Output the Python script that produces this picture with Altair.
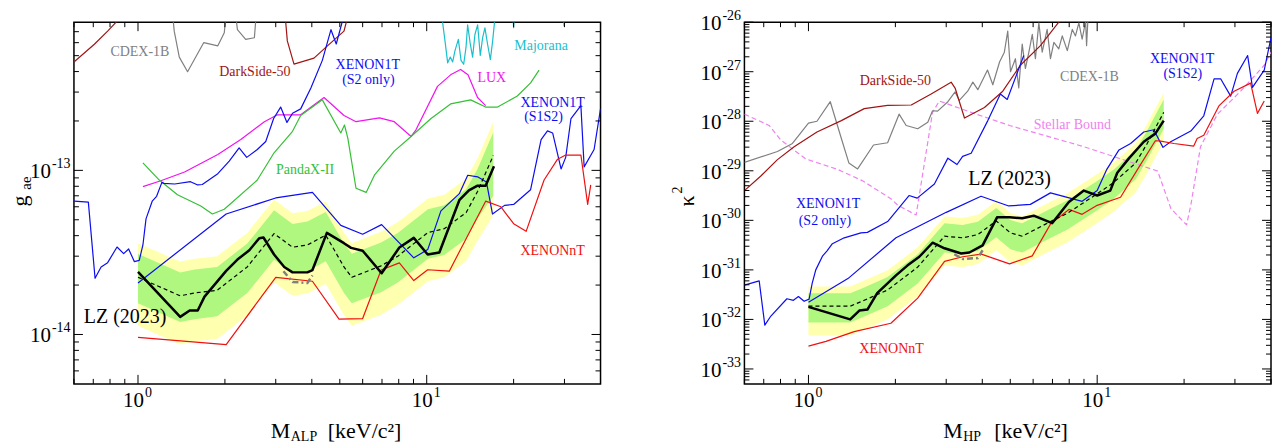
import altair as alt
import pandas as pd

FONT = "Liberation Serif"
W, H = 527, 362

BLUE = "#0d0df0"
RED = "#f01010"
GREEN = "#35c035"
MAGENTA = "#f014f0"
DARKRED = "#a01414"
GRAY = "#808080"
CYAN = "#18c0cc"
VIOLET = "#ee82ee"
YELLOW_BAND = "#ffffb0"
GREEN_BAND = "#b0f780"

# ---------------- tick arrays ----------------
X_MAJOR = [1, 10]
X_EXP = ["0", "1"]
X_MINOR = [0.6, 0.7, 0.8, 0.9, 2, 3, 4, 5, 6, 7, 8, 9, 20, 30, 40]

YL_MAJOR = [1e-14, 1e-13]
YL_EXP = ["-14", "-13"]
YL_MINOR = [6e-15, 7e-15, 8e-15, 9e-15,
            2e-14, 3e-14, 4e-14, 5e-14, 6e-14, 7e-14, 8e-14, 9e-14,
            2e-13, 3e-13, 4e-13, 5e-13, 6e-13, 7e-13]

YR_MAJOR = [1e-33, 1e-32, 1e-31, 1e-30, 1e-29, 1e-28, 1e-27, 1e-26]
YR_EXP = ["-33", "-32", "-31", "-30", "-29", "-28", "-27", "-26"]
YR_MINOR = [6e-34, 7e-34, 8e-34, 9e-34,
            2e-33, 3e-33, 4e-33, 5e-33, 6e-33, 7e-33, 8e-33, 9e-33,
            2e-32, 3e-32, 4e-32, 5e-32, 6e-32, 7e-32, 8e-32, 9e-32,
            2e-31, 3e-31, 4e-31, 5e-31, 6e-31, 7e-31, 8e-31, 9e-31,
            2e-30, 3e-30, 4e-30, 5e-30, 6e-30, 7e-30, 8e-30, 9e-30,
            2e-29, 3e-29, 4e-29, 5e-29, 6e-29, 7e-29, 8e-29, 9e-29,
            2e-28, 3e-28, 4e-28, 5e-28, 6e-28, 7e-28, 8e-28, 9e-28,
            2e-27, 3e-27, 4e-27, 5e-27, 6e-27, 7e-27, 8e-27, 9e-27]

# ---------------- LEFT PANEL (ALP, g_ae) ----------------
L_BAND_M = [1.00, 1.40, 1.57, 1.88, 2.39, 2.96, 3.43, 3.86, 4.47, 5.17, 5.50, 6.95, 7.94, 10.1, 11.5, 13.7, 15.0, 17.0]
L_MEDIAN = [2.23e-14, 1.72e-14, 1.79e-14, 1.86e-14, 2.58e-14, 4.12e-14, 3.40e-14, 3.51e-14, 4.03e-14, 2.58e-14,
            2.23e-14, 2.62e-14, 3.0e-14, 4.18e-14, 4.41e-14, 5.53e-14, 7.44e-14, 1.23e-13]
L_Y_TOP = [3.60e-14, 2.78e-14, 2.89e-14, 3.00e-14, 4.16e-14, 6.64e-14, 5.48e-14, 5.66e-14, 6.49e-14, 4.16e-14,
           3.60e-14, 4.22e-14, 4.83e-14, 6.73e-14, 7.11e-14, 8.91e-14, 1.18e-13, 1.98e-13]
L_G_TOP = [3.10e-14, 2.39e-14, 2.49e-14, 2.58e-14, 3.58e-14, 5.71e-14, 4.72e-14, 4.88e-14, 5.58e-14, 3.58e-14,
           3.10e-14, 3.63e-14, 4.16e-14, 5.79e-14, 6.12e-14, 7.67e-14, 1.02e-13, 1.70e-13]
L_G_BOT = [1.55e-14, 1.19e-14, 1.24e-14, 1.29e-14, 1.79e-14, 2.85e-14, 2.36e-14, 2.43e-14, 2.79e-14, 1.79e-14,
           1.55e-14, 1.81e-14, 2.07e-14, 2.89e-14, 3.05e-14, 3.83e-14, 5.08e-14, 7.0e-14]
L_Y_BOT = [1.13e-14, 8.7e-15, 9.1e-15, 9.4e-15, 1.31e-14, 2.08e-14, 1.72e-14, 1.78e-14, 2.04e-14, 1.31e-14,
           1.13e-14, 1.32e-14, 1.52e-14, 2.11e-14, 2.23e-14, 2.80e-14, 3.72e-14, 5.3e-14]

L_LZ_M = [1.00, 1.40, 1.51, 1.61, 1.70, 2.02, 2.21, 2.43, 2.63, 2.72, 2.96, 3.21, 3.43, 3.86, 4.02, 4.51, 5.17,
          5.47, 6.0, 6.98, 8.04, 9.02, 10.08, 11.06, 12.97, 14.0, 15.0, 16.0, 17.1]
L_LZ_G = [2.41e-14, 1.28e-14, 1.40e-14, 1.40e-14, 1.70e-14, 2.44e-14, 2.86e-14, 3.26e-14, 3.86e-14, 3.9e-14,
          3.07e-14, 2.58e-14, 2.39e-14, 2.39e-14, 2.47e-14, 4.16e-14, 3.6e-14, 3.37e-14, 3.24e-14, 2.36e-14,
          3.39e-14, 3.88e-14, 3.07e-14, 3.16e-14, 6.58e-14, 7.55e-14, 8.07e-14, 8.07e-14, 1.06e-13]

L_GRAYDASH_M = [3.19, 3.43, 3.86, 4.02]
L_GRAYDASH_G = [2.43e-14, 2.09e-14, 2.06e-14, 2.29e-14]

L_XNT_M = [1.0, 2.02, 3.0, 4.02, 4.97, 6.0, 6.95, 8.04, 9.02, 10.08, 11.97, 16.0, 18.07, 20.0, 22.1, 25.5,
           28.4, 30.3, 34.2, 36.1, 37.0]
L_XNT_G = [9.6e-15, 8.67e-15, 2.23e-14, 2.11e-14, 1.24e-14, 1.25e-14, 2.47e-14, 2.73e-14, 2.13e-14, 2.48e-14,
           2.43e-14, 6.49e-14, 6.0e-14, 4.73e-14, 4.25e-14, 8.73e-14, 1.17e-13, 1.24e-13, 1.24e-13, 6.21e-14, 8.15e-14]

L_X1T_S1S2_M = [1.0, 2.02, 3.0, 4.02, 5.04, 6.0, 6.98, 9.02, 10.08, 11.2, 12.97, 13.87, 15.0, 16.1, 16.9, 18.6,
                20.0, 22.9, 24.9, 26.2, 27.3, 29.2, 30.3, 31.6, 34.2, 35.1, 38.0, 40.0]
L_X1T_S1S2_G = [2.06e-14, 5.42e-14, 6.79e-14, 7.34e-14, 4.62e-14, 4.08e-14, 4.67e-14, 2.93e-14, 3.29e-14, 5.66e-14,
                7.21e-14, 9.34e-14, 9.13e-14, 8.5e-14, 5.42e-14, 6.12e-14, 6.2e-14, 7.62e-14, 1.54e-13, 1.74e-13,
                1.69e-13, 1.02e-13, 1.2e-13, 2.07e-13, 2.48e-13, 1.05e-13, 1.34e-13, 2.37e-13]

L_X1T_S2_M = [0.6, 0.673, 0.71, 0.745, 0.785, 0.846, 0.892, 0.928, 0.971, 1.01, 1.04, 1.066, 1.12, 1.16, 1.21,
              1.23, 1.34, 1.52, 1.61, 1.67, 1.89, 2.07, 2.24, 2.38, 2.59, 2.77, 2.95, 3.12, 3.28, 3.43, 3.66,
              3.97, 4.35, 4.66, 4.86, 5.17]
L_X1T_S2_G = [6.49e-14, 6.4e-14, 2.2e-14, 2.58e-14, 2.74e-14, 3.41e-14, 3.11e-14, 3.32e-14, 2.78e-14, 2.83e-14,
              3.51e-14, 5.06e-14, 6.49e-14, 6.95e-14, 8.45e-14, 8.33e-14, 8.26e-14, 8.53e-14, 8.15e-14, 8.2e-14,
              9.55e-14, 1.14e-13, 1.37e-13, 1.20e-13, 1.34e-13, 1.50e-13, 2.07e-13, 2.43e-13, 1.96e-13, 2.23e-13,
              2.37e-13, 3.18e-13, 4.68e-13, 7.2e-13, 5.89e-13, 8.8e-13]

L_LUX_M = [1.04, 1.20, 1.45, 1.89, 2.27, 2.74, 3.04, 3.66, 4.41, 5.17, 5.69, 6.86, 7.72, 8.83, 9.17, 10.9,
           12.1, 13.1, 13.9, 15.0, 16.0]
L_LUX_G = [7.96e-14, 8.65e-14, 9.77e-14, 1.25e-13, 1.54e-13, 1.98e-13, 2.18e-13, 2.18e-13, 2.78e-13, 2.16e-13,
           1.98e-13, 2.09e-13, 1.98e-13, 1.61e-13, 1.76e-13, 3.25e-13, 3.82e-13, 4.12e-13, 3.82e-13, 2.78e-13, 2.48e-13]

L_PANDA_M = [1.04, 1.185, 1.37, 1.65, 1.81, 1.99, 2.59, 2.96, 3.43, 3.66, 4.35, 5.04, 5.19, 5.33, 5.69, 6.17,
             6.59, 7.72, 8.83, 10.35, 12.1, 14.2, 16.0, 17.6, 20.6, 22.9, 24.5]
L_PANDA_G = [1.11e-13, 8.73e-14, 7.11e-14, 6.07e-14, 5.42e-14, 5.79e-14, 8.73e-14, 1.28e-13, 1.73e-13, 2.16e-13,
             2.69e-13, 1.69e-13, 1.89e-13, 1.57e-13, 7.78e-14, 7.34e-14, 9.34e-14, 1.31e-13, 1.61e-13, 2.07e-13,
             2.54e-13, 2.69e-13, 2.43e-13, 2.43e-13, 2.84e-13, 3.41e-13, 4.08e-13]

L_DS50_M = [0.6, 0.706, 0.785, 0.84, 1.2, 2.5, 3.2, 3.25, 3.29, 3.47, 4.07, 4.53, 5.17, 5.4]
L_DS50_G = [4.57e-13, 5.87e-13, 7.05e-13, 8.0e-13, 3e-12, 3e-12, 1.0e-12, 7.9e-13, 6.15e-13, 4.44e-13,
            4.83e-13, 5.74e-13, 7.05e-13, 9.5e-13]

L_CDEX_M = [1.31, 1.335, 1.39, 1.485, 1.69, 1.89, 1.99, 2.03, 2.16, 2.21, 2.36, 2.53, 2.58]
L_CDEX_G = [1.0e-12, 7.05e-13, 4.9e-13, 3.99e-13, 6.01e-13, 5.74e-13, 6.89e-13, 1.0e-12, 1.0e-12, 7.21e-13,
            6.29e-13, 6.43e-13, 1.0e-12]

L_MAJ_M = [11.2, 11.36, 11.57, 11.82, 12.07, 12.30, 12.53, 12.87, 13.15, 13.43, 13.68, 13.86, 14.16, 14.42,
           14.69, 15.01, 15.33, 15.62, 15.91, 16.25, 16.61, 16.92, 17.14, 17.4, 19.7, 20.0, 20.3, 29.6, 29.9, 30.2]
L_MAJ_G = [1.2e-12, 7.9e-13, 6.15e-13, 4.52e-13, 4.9e-13, 4.58e-13, 5.37e-13, 6.29e-13, 4.68e-13, 4.43e-13,
           5.61e-13, 7.71e-13, 5.87e-13, 4.9e-13, 6.73e-13, 7.71e-13, 5.01e-13, 6.44e-13, 7.38e-13, 5.87e-13,
           4.72e-13, 6.15e-13, 7.71e-13, 1.2e-12, 1.2e-12, 7.4e-13, 1.2e-12, 1.2e-12, 7.6e-13, 1.2e-12]

L_LABELS = [("CDEX-1B", 1.015, 5.29e-13, GRAY, 14),
            ("DarkSide-50", 2.54, 3.99e-13, DARKRED, 14),
            ("XENON1T", 6.25, 4.38e-13, BLUE, 14),
            ("(S2 only)", 6.28, 3.56e-13, BLUE, 14),
            ("LUX", 16.8, 3.66e-13, MAGENTA, 14),
            ("Majorana", 24.9, 5.74e-13, CYAN, 14),
            ("PandaX-II", 3.79, 1.0e-13, GREEN, 14),
            ("XENON1T", 27.3, 2.59e-13, BLUE, 14),
            ("(S1S2)", 25.4, 2.10e-13, BLUE, 14),
            ("XENONnT", 27.3, 3.21e-14, RED, 14),
            ("LZ (2023)", 0.902, 1.28e-14, "black", 20)]

# ---------------- RIGHT PANEL (HP, kappa^2) ----------------
R_BAND_M = [1.0, 1.395, 1.56, 1.88, 2.39, 2.96, 3.42, 3.86, 4.47, 5.01, 5.50, 6.89, 7.87, 10.0, 11.4, 13.6, 14.9, 17.0]
R_MEDIAN = [1.85e-32, 1.85e-32, 2.43e-32, 3.93e-32, 1.14e-31, 4.78e-31, 4.44e-31, 5.15e-31, 9.73e-31, 5.57e-31,
            4.78e-31, 9.42e-31, 1.38e-30, 3.43e-30, 5.79e-30, 1.44e-29, 3.56e-29, 1.51e-28]
R_Y_TOP = [4.63e-32, 4.63e-32, 6.10e-32, 9.86e-32, 2.85e-31, 1.20e-30, 1.11e-30, 1.29e-30, 2.44e-30, 1.40e-30,
           1.20e-30, 2.37e-30, 3.47e-30, 8.61e-30, 1.46e-29, 3.61e-29, 8.95e-29, 3.78e-28]
R_G_TOP = [3.36e-32, 3.36e-32, 4.42e-32, 7.14e-32, 2.07e-31, 8.69e-31, 8.07e-31, 9.38e-31, 1.77e-30, 1.01e-30,
           8.69e-31, 1.71e-30, 2.51e-30, 6.24e-30, 1.05e-29, 2.62e-29, 6.49e-29, 2.74e-28]
R_G_BOT = [8.63e-33, 8.63e-33, 1.14e-32, 1.84e-32, 5.31e-32, 2.23e-31, 2.07e-31, 2.41e-31, 4.55e-31, 2.61e-31,
           2.23e-31, 4.41e-31, 6.46e-31, 1.60e-30, 2.71e-30, 6.73e-30, 1.67e-29, 7.05e-29]
R_Y_BOT = [4.74e-33, 4.74e-33, 6.24e-33, 1.01e-32, 2.92e-32, 1.23e-31, 1.14e-31, 1.32e-31, 2.50e-31, 1.43e-31,
           1.23e-31, 2.42e-31, 3.55e-31, 8.81e-31, 1.49e-30, 3.70e-30, 9.16e-30, 3.87e-29]

R_LZ_M = [1.0, 1.395, 1.50, 1.60, 1.73, 2.01, 2.20, 2.42, 2.69, 2.96, 3.38, 3.61, 4.01, 4.50, 4.97, 5.50, 6.03,
          6.98, 7.98, 8.99, 10.0, 11.1, 11.74, 12.9, 14.5, 15.9, 17.0]
R_LZ_K = [1.79e-32, 1.0e-32, 1.51e-32, 1.58e-32, 3.38e-32, 7.76e-32, 1.22e-31, 1.84e-31, 3.53e-31, 2.73e-31,
          2.14e-31, 2.24e-31, 3.13e-31, 1.15e-30, 1.15e-30, 1.10e-30, 1.24e-30, 8.77e-31, 2.34e-30, 3.98e-30,
          3.17e-30, 3.98e-30, 9.1e-30, 1.80e-29, 3.86e-29, 5.62e-29, 1.03e-28]

R_GRAYDASH_M = [3.20, 3.42, 3.86, 4.01]
R_GRAYDASH_K = [2.07e-31, 1.66e-31, 1.73e-31, 2.49e-31]

R_XNT_M = [1.0, 1.15, 1.44, 1.93, 2.39, 2.96, 3.42, 3.97, 4.97, 5.96, 6.89, 7.98, 8.87, 10.0, 12.05, 13.8,
           15.9, 16.4, 18.45, 21.6, 22.2, 23.4, 26.4, 29.8, 34.0, 35.9, 37.9]
R_XNT_K = [2.9e-33, 3.6e-33, 5.66e-33, 8.38e-33, 2.69e-32, 1.49e-31, 1.84e-31, 2.08e-31, 1.32e-31, 1.92e-31,
           8.38e-31, 1.66e-30, 1.32e-30, 2.01e-30, 2.93e-30, 1.07e-29, 4.03e-29, 4.03e-29, 3.56e-29, 3.16e-29,
           4.48e-29, 5.22e-29, 2.04e-28, 4.04e-28, 5.88e-28, 1.44e-28, 2.56e-28]

R_X1T_S1S2_M = [1.0, 1.37, 2.01, 3.0, 3.96, 4.94, 5.87, 6.89, 8.87, 10.0, 10.8, 11.9, 13.06, 14.5, 15.7, 16.9,
                17.97, 21.1, 23.4, 25.4, 26.8, 29.0, 30.6, 33.2, 34.5, 37.9, 40.0]
R_X1T_S1S2_K = [2.21e-32, 6.67e-32, 4.44e-31, 1.45e-30, 3.07e-30, 1.95e-30, 2.10e-30, 3.58e-30, 2.42e-30, 3.98e-30,
                1.07e-29, 2.64e-29, 3.56e-29, 6.07e-29, 6.73e-29, 2.97e-29, 3.85e-29, 6.35e-29, 1.29e-28, 7.14e-28,
                7.14e-28, 3.21e-28, 9.25e-28, 2.12e-27, 4.83e-28, 1.08e-27, 4.9e-27]

R_X1T_S2_M = [0.6, 0.675, 0.706, 0.741, 0.842, 0.887, 0.923, 0.966, 1.005, 1.03, 1.06, 1.12, 1.16, 1.21, 1.33,
              1.52, 1.60, 1.88, 2.23, 2.38, 2.73, 3.04, 3.27, 3.42, 3.66, 4.18, 4.62, 4.88, 5.57]
R_X1T_S2_K = [4.93e-32, 6.01e-32, 7.66e-33, 1.17e-32, 2.61e-32, 2.43e-32, 2.90e-32, 2.32e-32, 2.57e-32, 5.32e-32,
              1.0e-31, 1.92e-31, 2.42e-31, 3.38e-31, 4.44e-31, 5.57e-31, 5.71e-31, 9.44e-31, 3.17e-30, 2.81e-30,
              5.4e-30, 1.80e-29, 1.34e-29, 1.95e-29, 2.26e-29, 1.03e-28, 3.56e-28, 2.75e-28, 2.13e-27]

R_DS50_M = [0.6, 0.684, 0.781, 0.892, 1.07, 1.30, 1.56, 1.88, 2.27, 2.66, 3.12, 3.22, 3.47, 4.07, 4.71, 5.42,
            6.36, 7.36, 8.0]
R_DS50_K = [3.97e-30, 7.85e-30, 1.68e-29, 3.07e-29, 6.07e-29, 1.03e-28, 1.80e-28, 2.10e-28, 2.13e-28, 3.56e-28,
            6.15e-28, 4.68e-28, 1.16e-28, 1.89e-28, 4.04e-28, 1.35e-27, 3.35e-27, 1.0e-26, 2e-26]

R_CDEX_M = [0.6, 0.781, 0.88, 1.0, 1.07, 1.19, 1.30, 1.38, 1.48, 1.68, 1.88, 2.06, 2.18, 2.39, 2.59, 2.69, 2.80,
            3.04, 3.22, 3.33, 3.56, 3.71, 3.86, 4.17, 4.35, 4.59, 4.77, 4.90, 5.01, 5.21, 5.35, 5.50, 5.64, 5.80,
            5.96, 6.11, 6.28, 6.45, 6.71, 6.89, 7.08, 7.36, 7.57, 7.88, 8.20, 8.41, 8.64, 8.87, 9.12, 9.19, 9.28]
R_CDEX_K = [1.48e-29, 2.45e-29, 3.56e-29, 9.14e-29, 1.0e-28, 2.48e-28, 4.48e-29, 1.44e-29, 1.09e-29, 3.32e-29,
            3.68e-29, 1.39e-28, 8.22e-29, 7.05e-29, 9.55e-29, 1.63e-28, 1.6e-28, 2.48e-28, 3.91e-28, 2.63e-28,
            4.04e-28, 6.15e-28, 4.34e-28, 1.08e-27, 5.45e-28, 1.57e-27, 2.48e-27, 6.62e-27, 1.0e-27, 1.83e-27,
            4.69e-28, 3.61e-27, 1.16e-27, 2.48e-27, 5.69e-27, 1.83e-27, 9.68e-27, 2.48e-27, 7.14e-27, 1.83e-27,
            3.91e-27, 2.88e-27, 5.27e-27, 2.67e-27, 7.14e-27, 5.27e-27, 9.68e-27, 4.54e-27, 1.04e-26, 3.35e-27,
            1.04e-26]

R_STELLAR_M = [0.6, 0.731, 0.802, 0.98, 1.26, 1.54, 1.93, 2.04, 2.36, 2.69, 2.84, 3.66, 4.97, 8.99, 16.2, 18.0,
               20.4, 21.1, 22.8, 26.1, 31.4, 37.9, 40.0]
R_STELLAR_K = [1.39e-28, 8.22e-29, 4.16e-29, 1.73e-29, 1.07e-29, 6.27e-30, 2.73e-30, 2.01e-30, 1.28e-30, 1.51e-28,
               2.56e-28, 1.51e-28, 8.22e-29, 3.07e-29, 9.86e-30, 1.73e-30, 8.1e-31, 2.01e-30, 3.07e-29, 1.39e-28,
               4.04e-28, 1.35e-27, 2.48e-27]

R_LABELS = [("DarkSide-50", 2.0, 6.35e-28, DARKRED, 14),
            ("CDEX-1B", 9.40, 7.96e-28, GRAY, 14),
            ("XENON1T", 19.7, 1.77e-27, BLUE, 14),
            ("(S1S2)", 19.8, 8.85e-28, BLUE, 14),
            ("Stellar Bound", 8.2, 8.22e-29, VIOLET, 14),
            ("LZ (2023)", 4.97, 6.76e-30, "black", 20),
            ("XENON1T", 1.17, 2.10e-30, BLUE, 14),
            ("(S2 only)", 1.14, 9.73e-31, BLUE, 14),
            ("XENONnT", 1.94, 2.48e-33, RED, 14)]


def seq(xs, ys):
    return pd.DataFrame({"m": xs, "v": ys, "i": list(range(len(xs)))})


def panel(ydom, bands, series, labels, ymajor, yexp, yminor, titles):
    xsc = alt.Scale(type="log", domain=[0.6, 40], nice=False, zero=False)
    ysc = alt.Scale(type="log", domain=ydom, nice=False, zero=False)
    X = alt.X("m:Q", scale=xsc, axis=None, title=None)
    Y = alt.Y("v:Q", scale=ysc, axis=None, title=None)
    layers = []
    bm, ybot, gbot, gtop, ytop = bands
    layers.append(alt.Chart(pd.DataFrame({"m": bm, "v": ybot, "v2": ytop}))
                  .mark_area(color=YELLOW_BAND, clip=True)
                  .encode(x=X, y=Y, y2=alt.Y2("v2:Q")))
    layers.append(alt.Chart(pd.DataFrame({"m": bm, "v": gbot, "v2": gtop}))
                  .mark_area(color=GREEN_BAND, clip=True)
                  .encode(x=X, y=Y, y2=alt.Y2("v2:Q")))
    for xs, ys, color, width, dash in series:
        kw = dict(color=color, strokeWidth=width, clip=True, strokeJoin="round")
        if dash:
            kw["strokeDash"] = dash
        layers.append(alt.Chart(seq(xs, ys)).mark_line(**kw)
                      .encode(x=X, y=Y, order=alt.Order("i:Q")))
    for txt, mx, vy, color, size in labels:
        layers.append(alt.Chart(pd.DataFrame({"m": [mx], "v": [vy], "t": [txt]}))
                      .mark_text(font=FONT, fontSize=size, color=color, align="center", baseline="middle")
                      .encode(x=X, y=Y, text="t:N"))
    # ticks (inward, on all four sides)
    for vals, ln in ((X_MAJOR, 9), (X_MINOR, 5)):
        df = pd.DataFrame({"m": vals})
        layers.append(alt.Chart(df).mark_rule(color="black", strokeWidth=1)
                      .encode(x=X, y=alt.value(H), y2=alt.value(H - ln)))
        layers.append(alt.Chart(df).mark_rule(color="black", strokeWidth=1)
                      .encode(x=X, y=alt.value(0), y2=alt.value(ln)))
    for vals, ln in ((ymajor, 9), (yminor, 5)):
        df = pd.DataFrame({"v": vals})
        layers.append(alt.Chart(df).mark_rule(color="black", strokeWidth=1)
                      .encode(y=Y, x=alt.value(0), x2=alt.value(ln)))
        layers.append(alt.Chart(df).mark_rule(color="black", strokeWidth=1)
                      .encode(y=Y, x=alt.value(W), x2=alt.value(W - ln)))
    # tick labels
    xdf = pd.DataFrame({"m": X_MAJOR, "t": X_EXP})
    layers.append(alt.Chart(xdf).mark_text(font=FONT, fontSize=21, align="right", baseline="middle", dx=6)
                  .encode(x=X, y=alt.value(H + 17), text=alt.value("10")))
    layers.append(alt.Chart(xdf).mark_text(font=FONT, fontSize=14, align="left", baseline="middle", dx=7)
                  .encode(x=X, y=alt.value(H + 9), text="t:N"))
    ydf = pd.DataFrame({"v": ymajor, "t": yexp})
    layers.append(alt.Chart(ydf).mark_text(font=FONT, fontSize=21, align="right", baseline="middle", dy=2)
                  .encode(y=Y, x=alt.value(-23), text=alt.value("10")))
    layers.append(alt.Chart(ydf).mark_text(font=FONT, fontSize=14, align="left", baseline="middle", dy=-6)
                  .encode(y=Y, x=alt.value(-22), text="t:N"))
    # axis titles
    for txt, px, py, size, angle, baseline in titles:
        layers.append(alt.Chart(pd.DataFrame({"t": [txt]}))
                      .mark_text(font=FONT, fontSize=size, angle=angle, align="left" if angle == 0 else "center",
                                 baseline=baseline, color="black")
                      .encode(x=alt.value(px), y=alt.value(py), text="t:N"))
    return alt.layer(*layers).properties(width=W, height=H)


left_series = [
    (L_CDEX_M, L_CDEX_G, GRAY, 1.2, None),
    (L_DS50_M, L_DS50_G, DARKRED, 1.2, None),
    (L_MAJ_M, L_MAJ_G, CYAN, 1.2, None),
    (L_LUX_M, L_LUX_G, MAGENTA, 1.2, None),
    (L_PANDA_M, L_PANDA_G, GREEN, 1.2, None),
    (L_X1T_S2_M, L_X1T_S2_G, BLUE, 1.2, None),
    (L_X1T_S1S2_M, L_X1T_S1S2_G, BLUE, 1.2, None),
    (L_XNT_M, L_XNT_G, RED, 1.2, None),
    (L_BAND_M, L_MEDIAN, "black", 1.2, [4, 3]),
    (L_GRAYDASH_M, L_GRAYDASH_G, GRAY, 2.5, [6, 3, 2, 3]),
    (L_LZ_M, L_LZ_G, "black", 2.5, None),
]
right_series = [
    (R_STELLAR_M, R_STELLAR_K, VIOLET, 1.2, [5, 3]),
    (R_CDEX_M, R_CDEX_K, GRAY, 1.2, None),
    (R_DS50_M, R_DS50_K, DARKRED, 1.2, None),
    (R_X1T_S2_M, R_X1T_S2_K, BLUE, 1.2, None),
    (R_X1T_S1S2_M, R_X1T_S1S2_K, BLUE, 1.2, None),
    (R_XNT_M, R_XNT_K, RED, 1.2, None),
    (R_BAND_M, R_MEDIAN, "black", 1.2, [4, 3]),
    (R_GRAYDASH_M, R_GRAYDASH_K, GRAY, 2.5, [6, 3, 2, 3]),
    (R_LZ_M, R_LZ_K, "black", 2.5, None),
]

left_titles = [
    ("g", -54, 179, 22, 270, "middle"),
    ("ae", -48, 161, 15, 270, "middle"),
    ("M", 197, H + 54, 22, 0, "alphabetic"),
    ("ALP", 217, H + 57, 14, 0, "alphabetic"),
    ("[keV/c²]", 254, H + 54, 22, 0, "alphabetic"),
]
right_titles = [
    ("κ", -57, 179, 22, 270, "middle"),
    ("2", -66, 168, 14, 270, "middle"),
    ("M", 199, H + 54, 22, 0, "alphabetic"),
    ("HP", 219, H + 57, 14, 0, "alphabetic"),
    ("[keV/c²]", 250, H + 54, 22, 0, "alphabetic"),
]

left = panel([5e-15, 8e-13], (L_BAND_M, L_Y_BOT, L_G_BOT, L_G_TOP, L_Y_TOP), left_series, L_LABELS,
             YL_MAJOR, YL_EXP, YL_MINOR, left_titles)
right = panel([5e-34, 1e-26], (R_BAND_M, R_Y_BOT, R_G_BOT, R_G_TOP, R_Y_TOP), right_series, R_LABELS,
              YR_MAJOR, YR_EXP, YR_MINOR, right_titles)

chart = (alt.hconcat(left, right, spacing=144, bounds="flush")
         .properties(padding=0)
         .configure_view(stroke="black", strokeWidth=1.5))

chart.save("out.html", embed_options={"renderer": "svg", "actions": False})
